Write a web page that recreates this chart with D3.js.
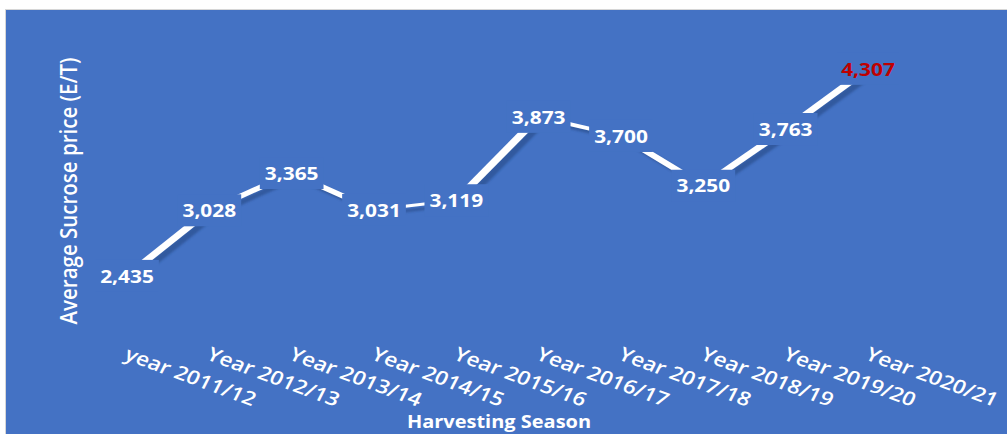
<!DOCTYPE html>
<html>
<head>
<meta charset="utf-8">
<script src="https://cdn.jsdelivr.net/npm/d3@7"></script>
<style>
  html, body { margin: 0; padding: 0; background: #ffffff; overflow: hidden; }
  svg { display: block; }
</style>
</head>
<body>
<svg id="chart" width="1007" height="434"></svg>
<script>
// Harvesting seasons and average sucrose price (E/T)
const seasons = [
  "year 2011/12", "Year 2012/13", "Year 2013/14", "Year 2014/15", "Year 2015/16",
  "Year 2016/17", "Year 2017/18", "Year 2018/19", "Year 2019/20", "Year 2020/21"
];
const prices = [2435, 3028, 3365, 3031, 3119, 3873, 3700, 3250, 3763, 4307];
const highlightIndex = 9; // latest season shown in red

const yTitle = "Average Sucrose price (E/T)";
const xTitle = "Harvesting Season";

const W = 1007, H = 434;
const BG = "#4472C4";
const FONT = "'Open Sans', 'Noto Sans', sans-serif";
const SX = 1.13; // horizontal widening of chart text

const svg = d3.select("#chart");

const defs = svg.append("defs");
defs.append("filter").attr("id", "soft")
  .attr("x", "-20%").attr("y", "-20%").attr("width", "140%").attr("height", "140%")
  .append("feGaussianBlur").attr("stdDeviation", 0.9);

// chart area
svg.append("rect")
  .attr("x", 5.5).attr("y", 9.5)
  .attr("width", W + 10).attr("height", H + 10)
  .attr("fill", BG).attr("stroke", "#d6d6d6").attr("stroke-width", 1);

// scales
const x = d3.scalePoint().domain(seasons).range([127, 868]);
const y = d3.scaleLinear().domain([2000, 4500]).range([324, 47.5]);

const pts = seasons.map((s, i) => [x(s), y(prices[i])]);

// ribbon segment: segment swept by a small rectangle (flat 3-D line look)
const RW = 8, RH = 2.2;
function ribbon(p1, p2, dx, dy) {
  const c = [];
  for (const p of [p1, p2]) {
    for (const sx of [-RW / 2, RW / 2]) for (const sy of [-RH / 2, RH / 2]) {
      c.push([p[0] + sx + dx, p[1] + sy + dy]);
    }
  }
  return d3.polygonHull(c);
}
const segs = d3.pairs(pts);
const line = d3.line();

const gLine = svg.append("g");
gLine.selectAll("path.shadow").data(segs).join("path")
  .attr("class", "shadow")
  .attr("d", d => line(ribbon(d[0], d[1], 5, 4)) + "Z")
  .attr("fill", "#2c4f8f").attr("opacity", 0.7)
  .attr("filter", "url(#soft)");
gLine.selectAll("path.face").data(segs).join("path")
  .attr("class", "face")
  .attr("d", d => line(ribbon(d[0], d[1], 0, 0)) + "Z")
  .attr("fill", "#ffffff");

// data labels with chart-coloured boxes
const fmt = d3.format(",");
const gLab = svg.append("g");
const labels = gLab.selectAll("g.lab").data(prices).join("g").attr("class", "lab")
  .attr("transform", (d, i) => `translate(${pts[i][0]},${pts[i][1]})`);
const boxes = labels.append("rect").attr("fill", BG);
const texts = labels.append("text")
  .attr("transform", `scale(${SX},1)`)
  .attr("text-anchor", "middle")
  .attr("dy", "0.36em")
  .attr("font-family", FONT).attr("font-weight", 700).attr("font-size", 18.5)
  .attr("fill", (d, i) => i === highlightIndex ? "#C00000" : "#ffffff")
  .text(d => fmt(d));
texts.each(function (d, i) {
  const w = this.getComputedTextLength() * SX + 10;
  d3.select(boxes.nodes()[i])
    .attr("x", -w / 2).attr("y", -16).attr("width", w).attr("height", 32);
});

// category axis labels (rotated)
svg.append("g").selectAll("text").data(seasons).join("text")
  .attr("transform", d => `translate(${x(d) - 4},359) scale(1.18,1) rotate(23.5)`)
  .attr("text-anchor", "start")
  .attr("font-family", FONT).attr("font-weight", 600).attr("font-size", 19.2)
  .attr("fill", "#ffffff")
  .text(d => d);

// axis titles
svg.append("text")
  .attr("transform", `translate(69,191) scale(${SX},1) rotate(-90)`)
  .attr("text-anchor", "middle").attr("dy", "0.35em")
  .attr("font-family", FONT).attr("font-weight", 600).attr("font-size", 20.5)
  .attr("fill", "#ffffff")
  .text(yTitle);

svg.append("text")
  .attr("transform", `translate(499,428) scale(1.08,1)`)
  .attr("text-anchor", "middle")
  .attr("font-family", FONT).attr("font-weight", 700).attr("font-size", 18.5)
  .attr("fill", "#ffffff")
  .text(xTitle);
</script>
</body>
</html>
